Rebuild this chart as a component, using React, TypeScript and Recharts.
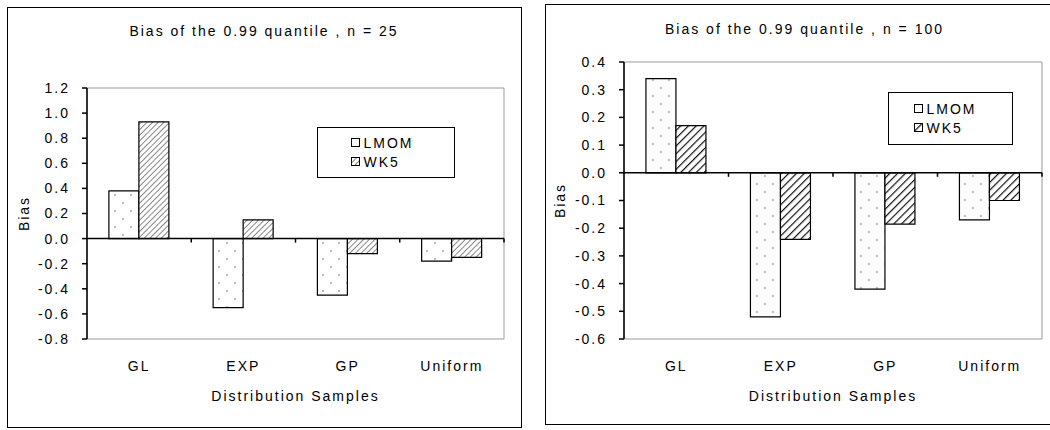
import React from "react";
import {
  BarChart,
  Bar,
  XAxis,
  YAxis,
  ReferenceLine,
  ReferenceArea,
  Legend,
} from "recharts";

const categories = ["GL", "EXP", "GP", "Uniform"];

const lmom25 = [0.38, -0.55, -0.45, -0.18];
const wk525 = [0.93, 0.15, -0.12, -0.15];

const lmom100 = [0.34, -0.52, -0.42, -0.17];
const wk5100 = [0.17, -0.24, -0.185, -0.1];

const ticks25 = [-0.8, -0.6, -0.4, -0.2, 0, 0.2, 0.4, 0.6, 0.8, 1.0, 1.2];
const ticks100 = [-0.6, -0.5, -0.4, -0.3, -0.2, -0.1, 0, 0.1, 0.2, 0.3, 0.4];

const seriesNames = ["LMOM", "WK5"];

const FONT = '"Liberation Sans", Arial, sans-serif';
const txt = { fontFamily: FONT, fontSize: 14, fill: "#000", letterSpacing: 2 };

const data25 = categories.map((c, i) => ({ name: c, LMOM: lmom25[i], WK5: wk525[i] }));
const data100 = categories.map((c, i) => ({ name: c, LMOM: lmom100[i], WK5: wk5100[i] }));

// fill patterns live in their own hidden svg so bars and legend can both use them
function Patterns({ id, hatchGap, hatchWidth }: { id: string; hatchGap: number; hatchWidth: number }) {
  return (
    <svg width={0} height={0} style={{ position: "absolute" }}>
      <defs>
        <pattern id={`dots${id}`} patternUnits="userSpaceOnUse" width={16} height={16}>
          <rect width={16} height={16} fill="#fff" />
          <circle cx={4} cy={4} r={0.7} fill="#444" />
          <circle cx={12} cy={12} r={0.7} fill="#444" />
        </pattern>
        <pattern
          id={`hatch${id}`}
          patternUnits="userSpaceOnUse"
          width={hatchGap}
          height={hatchGap}
          patternTransform="rotate(45)"
        >
          <rect width={hatchGap} height={hatchGap} fill="#fff" />
          <line x1={0} y1={0} x2={0} y2={hatchGap} stroke="#111" strokeWidth={hatchWidth} />
        </pattern>
      </defs>
    </svg>
  );
}

// zero line with the small category-boundary ticks hanging under it
const zeroLine = (p: any) => {
  const { x1, y1, x2, y2 } = p;
  const step = (x2 - x1) / categories.length;
  return (
    <g>
      <line x1={x1} y1={y1} x2={x2} y2={y2} stroke="#000" strokeWidth={1.5} />
      {categories.map((_, k) => (
        <line
          key={k}
          x1={x1 + (k + 1) * step}
          x2={x1 + (k + 1) * step}
          y1={y1}
          y2={y1 + 4}
          stroke="#000"
          strokeWidth={1.5}
        />
      ))}
    </g>
  );
};

function makeLegend(id: string) {
  return () => (
    <div
      style={{
        border: "1.5px solid #000",
        background: "#fff",
        boxSizing: "border-box",
        width: "100%",
        height: "100%",
        display: "flex",
        flexDirection: "column",
        justifyContent: "center",
        paddingLeft: id === "L" ? 33 : 25,
        fontFamily: FONT,
        fontSize: 14,
        letterSpacing: 2,
      }}
    >
      {seriesNames.map((s) => (
        <div key={s} style={{ display: "flex", alignItems: "center", height: 19 }}>
          <svg width={9} height={9} style={{ marginRight: 4 }}>
            <rect
              x={0.5}
              y={0.5}
              width={8}
              height={8}
              fill={s === "LMOM" ? "#fff" : `url(#hatch${id})`}
              stroke="#000"
            />
          </svg>
          <span>{s}</span>
        </div>
      ))}
    </div>
  );
}

function Panel({
  id,
  title,
  data,
  ticks,
  margin,
  legendPos,
  hatchGap,
  hatchWidth,
}: any) {
  const lo = ticks[0];
  const hi = ticks[ticks.length - 1];
  return (
    <>
      <Patterns id={id} hatchGap={hatchGap} hatchWidth={hatchWidth} />
      <BarChart width={margin.w} height={421} data={data} margin={margin} barCategoryGap="21%" barGap={0}>
        <ReferenceArea y1={lo} y2={hi} fill="none" stroke="#999" strokeWidth={1} />
        <XAxis
          dataKey="name"
          axisLine={false}
          tickLine={false}
          tickSize={0}
          tickMargin={22}
          height={64}
          tick={txt}
          interval={0}
          label={{ value: "Distribution Samples", position: "insideBottom", offset: 2, style: txt }}
        />
        <YAxis
          domain={[lo, hi]}
          ticks={ticks}
          interval={0}
          width={margin.yw}
          tickFormatter={(v: number) => v.toFixed(1)}
          tick={txt}
          tickSize={5}
          tickMargin={12}
          axisLine={{ stroke: "#000", strokeWidth: 1.5 }}
          tickLine={{ stroke: "#000", strokeWidth: 1.5 }}
          label={{ value: "Bias", angle: -90, position: "insideLeft", offset: margin.biasOff, style: { ...txt, textAnchor: "middle" } }}
        />
        <Bar dataKey="LMOM" fill={`url(#dots${id})`} stroke="#000" strokeWidth={1.2} isAnimationActive={false} />
        <Bar dataKey="WK5" fill={`url(#hatch${id})`} stroke="#000" strokeWidth={1.2} isAnimationActive={false} />
        <ReferenceLine y={0} shape={zeroLine} />
        <Legend
          content={makeLegend(id)}
          layout="horizontal"
          verticalAlign="middle"
          align="center"
          wrapperStyle={{ position: "absolute", ...legendPos }}
        />
      </BarChart>
      <div
        style={{
          position: "absolute",
          left: 0,
          top: margin.titleY,
          width: margin.w,
          textAlign: "center",
          fontFamily: FONT,
          fontSize: 14,
          letterSpacing: 2,
        }}
      >
        {title}
      </div>
    </>
  );
}

export default function App() {
  return (
    <div style={{ position: "absolute", left: 0, top: 0, width: 1050, height: 430, background: "#fff", overflow: "hidden" }}>
      <div
        style={{
          position: "absolute",
          left: 7,
          top: 7,
          width: 515,
          height: 421,
          border: "1.5px solid #000",
          boxSizing: "border-box",
        }}
      >
        <div style={{ position: "absolute", left: -1.5, top: -1.5, width: 515, height: 421 }}>
          <Panel
            id="L"
            title="Bias of the 0.99 quantile , n = 25"
            data={data25}
            ticks={ticks25}
            margin={{ top: 81, right: 18, bottom: 25, left: 0, yw: 80, titleY: 16, w: 515, biasOff: 17 }}
            legendPos={{ left: 310, top: 120, width: 138, height: 51 }}
            hatchGap={4}
            hatchWidth={1}
          />
        </div>
      </div>
      <div
        style={{
          position: "absolute",
          left: 545,
          top: 4,
          width: 540,
          height: 421,
          border: "1.5px solid #000",
          boxSizing: "border-box",
        }}
      >
        <div style={{ position: "absolute", left: -1.5, top: -1.5, width: 520, height: 421 }}>
          <Panel
            id="R"
            title="Bias of the 0.99 quantile , n = 100"
            data={data100}
            ticks={ticks100}
            margin={{ top: 58, right: 23, bottom: 22, left: 0, yw: 79, titleY: 17, w: 520, biasOff: 15 }}
            legendPos={{ left: 343, top: 88, width: 125, height: 53 }}
            hatchGap={5.5}
            hatchWidth={2.4}
          />
        </div>
      </div>
    </div>
  );
}
